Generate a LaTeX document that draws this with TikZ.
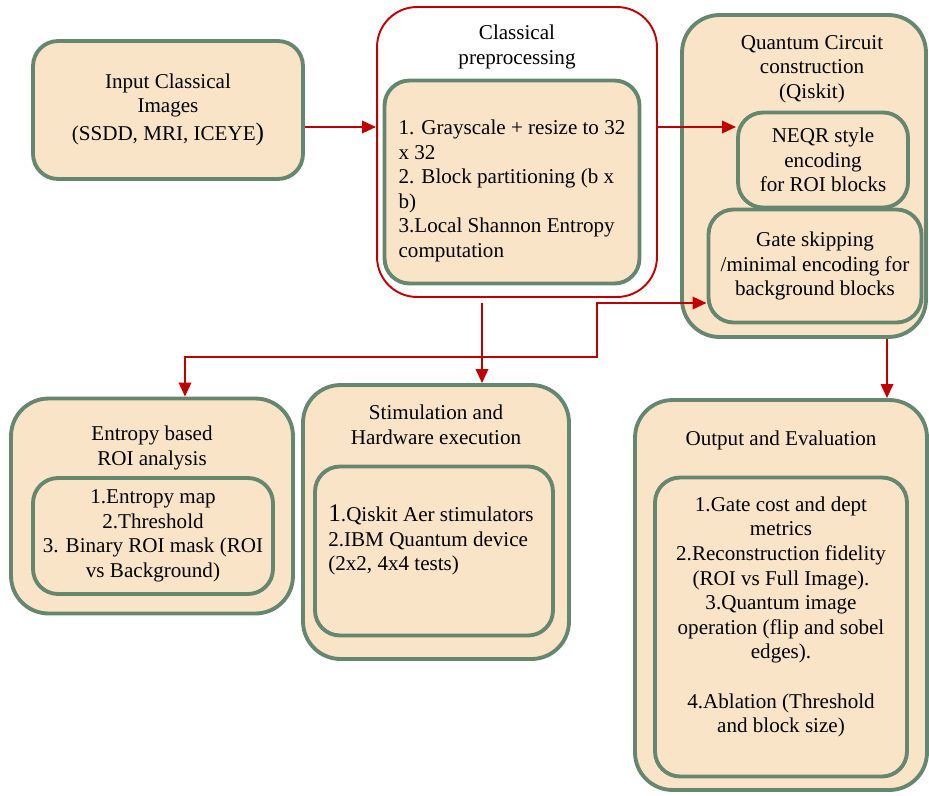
\documentclass[tikz,border=0pt]{standalone}
\usepackage{fontspec}
\setmainfont{Liberation Serif}
\usepackage{xcolor}
\usepackage{tikz}
\usetikzlibrary{arrows.meta, positioning, calc}
\definecolor{boxfill}{RGB}{250,228,199}
\definecolor{boxline}{RGB}{101,135,111}
\definecolor{flowred}{RGB}{192,0,0}

\begin{document}
\begin{tikzpicture}[
    x=0.02cm, y=-0.02cm,
    font=\fontsize{12}{14}\selectfont,
    card/.style={rectangle, draw=boxline, fill=boxfill, line width=2.2pt, align=center},
    bigcard/.style={card, rounded corners=0.75cm},
    smallcard/.style={card, rounded corners=0.5cm},
    prepcard/.style={rectangle, draw=flowred, fill=white, line width=1.1pt, rounded corners=0.8cm},
    heading/.style={align=center, inner sep=0pt},
    flow/.style={draw=flowred, line width=1.4pt, -{Triangle[length=8pt, width=7pt]}},
    flowboth/.style={flow, {Triangle[length=8pt, width=7pt]}-{Triangle[length=8pt, width=7pt]}},
]
    \useasboundingbox (0,0) rectangle (929,795);

    % Input
    \node[smallcard, minimum width=5.4cm, minimum height=2.76cm] (inp) at (168,110)
        {Input Classical\\Images\\[2pt](SSDD, MRI, ICEYE{\Large )}};

    % Classical preprocessing
    \node[prepcard, minimum width=5.6cm, minimum height=5.8cm] (cls) at (517,152) {};
    \node[heading] (clst) at (517,47) {Classical\\preprocessing};
    \node[smallcard, minimum width=5.1cm, minimum height=4.06cm] (clsin) at (512,182) {};
    \node[heading, align=left] (clstxt) at (512,191)
        {1. Grayscale + resize to 32\\x 32\\2. Block partitioning (b x\\b)\\3.Local Shannon Entropy\\computation};

    % Quantum circuit construction
    \node[bigcard, minimum width=4.88cm, minimum height=6.44cm] (qc) at (804,176) {};
    \node[heading] (qct) at (812,69) {Quantum Circuit\\construction\\(Qiskit)};
    \node[smallcard, minimum width=3.4cm, minimum height=1.9cm] (neq) at (823,160)
        {NEQR style\\encoding\\for ROI blocks};
    \node[smallcard, minimum width=4.26cm, minimum height=2.26cm] (gate) at (815,266)
        {Gate skipping\\/minimal encoding for\\background blocks};

    % Entropy based ROI analysis
    \node[bigcard, minimum width=5.64cm, minimum height=4.3cm] (ent) at (152,506) {};
    \node[heading] (entt) at (152,448) {Entropy based\\ROI analysis};
    \node[smallcard, minimum width=4.8cm, minimum height=2.32cm] (entin) at (153,536)
        {1.Entropy map\\2.Threshold\\3. Binary ROI mask (ROI\\vs Background)};

    % Stimulation and hardware
    \node[bigcard, minimum width=5.32cm, minimum height=5.48cm] (stim) at (436,522) {};
    \node[heading] (stimt) at (436,425) {Stimulation and\\Hardware execution};
    \node[smallcard, minimum width=4.76cm, minimum height=3.38cm] (stimin) at (434,551) {};
    \node[heading, align=left] (stimtxt) at (431,540)
        {{\Large 1}.Qiskit Aer stimulators\\2.IBM Quantum device\\(2x2, 4x4 tests)};

    % Output and evaluation
    \node[bigcard, minimum width=5.84cm, minimum height=7.8cm] (out) at (781,595) {};
    \node[heading] (outt) at (781,440) {Output and Evaluation};
    \node[smallcard, minimum width=5.04cm, minimum height=5.98cm] (outin) at (781,627) {};
    \node[heading] (outtxt) at (781,617)
        {1.Gate cost and dept\\metrics\\2.Reconstruction fidelity\\(ROI vs Full Image).\\3.Quantum image\\operation (flip and sobel\\edges).\\[14pt]4.Ablation (Threshold\\and block size)};

    % Connectors
    \coordinate (r1) at (0,127);
    \coordinate (r2) at (0,303);
    \coordinate (c1) at (482,303);
    \coordinate (c2) at (887,0);
    \coordinate (j0) at (185,357);
    \coordinate (j1) at (597,357);
    \draw[flow] (inp.east |- r1) -- (cls.west |- r1);
    \draw[flow] (cls.east |- r1) -- (neq.west |- r1);
    \draw[flow] (c1) -- (c1 |- stim.north);
    \draw[flowboth] (j0 |- ent.north) -- (j0) -- (j1) |- (gate.west |- r2);
    \draw[flow] (c2 |- qc.south) -- (c2 |- out.north);
\end{tikzpicture}
\end{document}
